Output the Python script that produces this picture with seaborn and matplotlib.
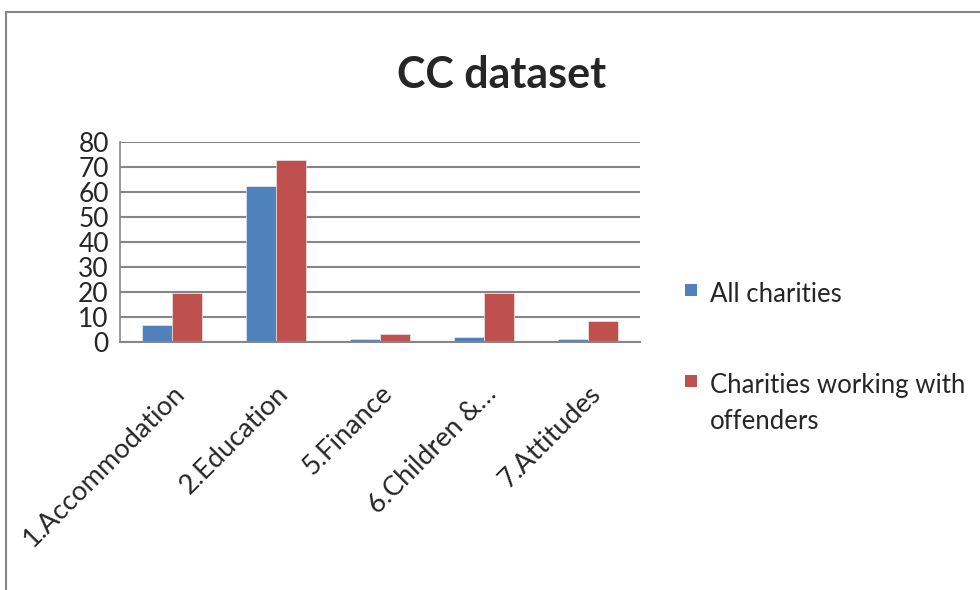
import matplotlib
matplotlib.use("Agg")
import matplotlib.pyplot as plt
import seaborn as sns
import pandas as pd
from matplotlib.patches import Rectangle

# data
categories = ["1.Accommodation", "2.Education", "5.Finance", "6.Children &\u2026", "7.Attitudes"]
all_charities = [6.7, 62.6, 1.1, 2.0, 1.1]
offender_charities = [19.8, 73.0, 3.1, 19.8, 8.6]
series_names = ["All charities", "Charities working with offenders"]
legend_labels = ["All charities", "Charities working with\noffenders"]
colors = ["#4F81BD", "#C0504D"]

df = pd.DataFrame({
    "category": categories * 2,
    "value": all_charities + offender_charities,
    "series": [series_names[0]] * len(categories) + [series_names[1]] * len(categories),
})

sns.set_style("white")
plt.rcParams["font.family"] = ["Lato", "DejaVu Sans"]

fig = plt.figure(figsize=(9.8, 5.9), dpi=100)
ax = fig.add_axes([0.1224, 0.4203, 0.5306, 0.339])

sns.barplot(data=df, x="category", y="value", hue="series", palette=colors,
            saturation=1, width=0.57, ax=ax, legend=False,
            edgecolor="#e8e8e8", linewidth=0.5)

ax.set_ylim(0, 80)
ax.set_xlim(-0.5, len(categories) - 0.5)
ax.set_yticks(range(0, 81, 10))
ax.tick_params(axis="y", labelsize=19, length=6, color="#868686", pad=2)
ax.yaxis.grid(True, color="#868686", linewidth=1.5)
ax.set_axisbelow(True)
ax.set_xlabel("")
ax.set_ylabel("")

# x ticks between categories, labels at centres
ax.set_xticks([i - 0.5 for i in range(len(categories) + 1)], minor=False)
ax.set_xticklabels([])
ax.tick_params(axis="x", which="major", length=6, color="#868686", direction="out")
ax.set_xticks(range(len(categories)), minor=True)
ax.set_xticklabels(categories, minor=True, rotation=45, ha="right",
                   rotation_mode="anchor", fontsize=19.5)
ax.tick_params(axis="x", which="minor", length=0, pad=28)

for side in ["top", "right"]:
    ax.spines[side].set_visible(False)
ax.spines["left"].set_color("#868686")
ax.spines["bottom"].set_color("#868686")
ax.spines["left"].set_linewidth(1.2)
ax.spines["bottom"].set_linewidth(1.5)

fig.text(0.512, 0.873, "CC dataset", ha="center", va="center",
         fontsize=31, fontweight="bold")

# legend drawn by hand so the marker lines up with the first text line
legend_y = [0.51, 0.355]
for c, lab, y in zip(colors, legend_labels, legend_y):
    fig.add_artist(Rectangle((0.699, y - 0.011), 0.0122, 0.0203,
                             transform=fig.transFigure, facecolor=c, edgecolor="none"))
    fig.text(0.724, y + 0.012, lab, ha="left", va="top", fontsize=18.5,
             linespacing=1.55)

fig.add_artist(Rectangle((0.006, -0.1), 1.2, 1.0797, transform=fig.transFigure,
                         fill=False, edgecolor="#868686", linewidth=1.5))

fig.savefig("out.png", dpi=100)
